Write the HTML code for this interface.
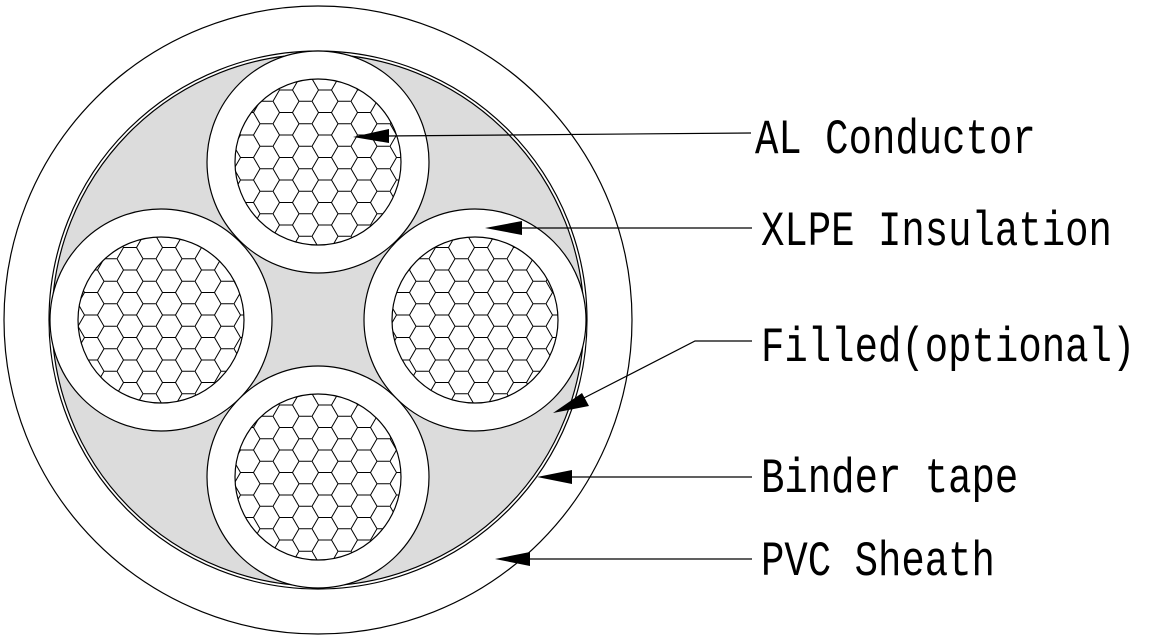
<!DOCTYPE html>
<html><head><meta charset="utf-8"><style>
html,body{margin:0;padding:0;background:#fff;width:1150px;height:639px;overflow:hidden}
text{font-family:"Liberation Mono","DejaVu Sans Mono",monospace;font-size:39px;fill:#000}
</style></head><body>
<svg width="1150" height="639" viewBox="0 0 1150 639" xmlns="http://www.w3.org/2000/svg">
<defs>
<pattern id="hex" width="39" height="22.5" patternUnits="userSpaceOnUse" x="0" y="0">
<path d="M0,11.25 L6.5,0 L19.5,0 L26,11.25 L19.5,22.5 L6.5,22.5 Z M26,11.25 L39,11.25" fill="none" stroke="#000" stroke-width="1"/>
</pattern>
</defs>
<circle cx="318" cy="320" r="314" fill="#fff" stroke="#000" stroke-width="1.2"/>
<circle cx="318" cy="320" r="269" fill="#fff" stroke="#000" stroke-width="1.2"/>
<circle cx="318" cy="320" r="266" fill="#dcdcdc" stroke="#000" stroke-width="1.2"/>
<g stroke="#000" stroke-width="1.2">
<circle cx="318" cy="162" r="111" fill="#fff"/>
<circle cx="161" cy="320" r="111" fill="#fff"/>
<circle cx="475" cy="320" r="111" fill="#fff"/>
<circle cx="318" cy="477" r="111" fill="#fff"/>
<circle cx="318" cy="162" r="83" fill="url(#hex)"/>
<circle cx="161" cy="320" r="83" fill="url(#hex)"/>
<circle cx="475" cy="320" r="83" fill="url(#hex)"/>
<circle cx="318" cy="477" r="83" fill="url(#hex)"/>
</g>
<g stroke="#000" stroke-width="1.2" fill="none">
<line x1="751" y1="133" x2="385" y2="136"/>
<line x1="752" y1="228" x2="515" y2="228"/>
<polyline points="752,341 695,341 580,400"/>
<line x1="752" y1="477" x2="570" y2="477"/>
<line x1="752" y1="559" x2="528" y2="559"/>
</g>
<g fill="#000">
<polygon points="353,137 389,129 389,143"/>
<polygon points="485,228 522,221 522,235"/>
<polygon points="553,413 582,393 589,406"/>
<polygon points="537,477 572,470 572,484"/>
<polygon points="495,559 530,552 530,566"/>
</g>
<text transform="translate(755,153) scale(1,1.25)">AL Conductor</text>
<text transform="translate(761,245) scale(1,1.25)">XLPE Insulation</text>
<text transform="translate(761,361) scale(1,1.25)">Filled(optional)</text>
<text transform="translate(761,492) scale(1,1.25)">Binder tape</text>
<text transform="translate(761,575) scale(1,1.25)">PVC Sheath</text>
</svg>
</body></html>
